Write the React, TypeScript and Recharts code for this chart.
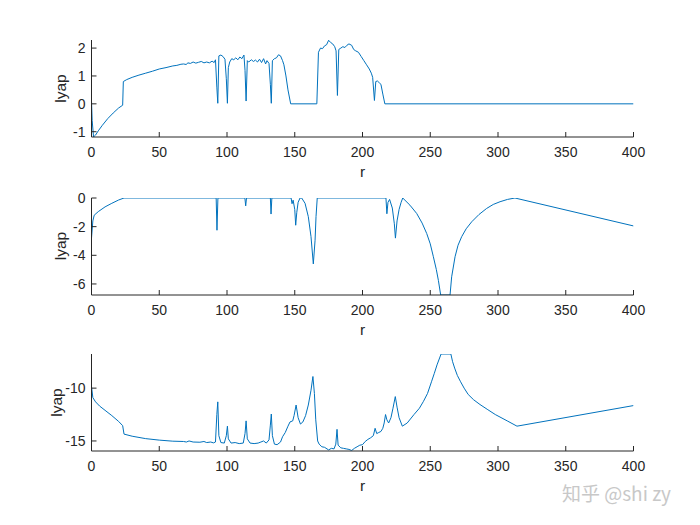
import React from 'react';
import { LineChart, Line, XAxis, YAxis } from 'recharts';

// ---- data ----
const xTicks = [0, 50, 100, 150, 200, 250, 300, 350, 400];

const r1 = [0, 0.5, 1.5, 3, 5, 8, 12, 16, 20, 23, 23.5, 26, 30, 35, 40, 45, 50, 55, 60, 63, 66, 68, 70, 71, 73, 75, 77, 79, 81, 83, 85, 87, 89, 90.5, 91.5, 92.5, 93.2, 94, 95.5, 97, 98.5, 99.5, 100.3, 101, 102, 103.5, 105, 106.5, 108, 109.5, 111, 112.5, 113.3, 114.1, 115, 116, 118, 119.5, 121, 122.5, 124, 125.5, 127, 128.5, 129.5, 131, 132, 132.7, 133.5, 135, 136.5, 138, 139.5, 141, 142, 143.5, 145, 147, 166.3, 167.5, 169, 170.5, 172, 173.5, 175, 176.5, 178, 179.5, 180.5, 181.5, 182.5, 184, 185.5, 187, 188.5, 190, 192, 193.5, 195, 197, 199, 201, 203, 205, 206.5, 207.5, 208.8, 209.8, 211, 212.5, 213.6, 215, 216.5, 400];
const v1 = [0.1, -0.6, -1.19, -1.12, -0.97, -0.77, -0.53, -0.33, -0.15, -0.05, 0.8, 0.87, 0.95, 1.03, 1.1, 1.17, 1.25, 1.3, 1.36, 1.38, 1.42, 1.43, 1.41, 1.47, 1.45, 1.5, 1.46, 1.49, 1.52, 1.47, 1.5, 1.47, 1.53, 1.48, 1.58, 0.6, 0.02, 1.72, 1.75, 1.7, 1.6, 0.9, 0.02, 1.3, 1.5, 1.62, 1.58, 1.65, 1.58, 1.68, 1.62, 1.75, 1.2, 0.1, 1.55, 1.5, 1.58, 1.52, 1.57, 1.5, 1.6, 1.48, 1.62, 1.43, 1.55, 1.45, 0.7, 0.02, 1.55, 1.62, 1.65, 1.76, 1.72, 1.55, 1.4, 1.0, 0.5, 0, 0, 1.85, 2.0, 1.98, 2.08, 2.12, 2.28, 2.2, 2.15, 2.05, 1.9, 0.3, 1.95, 2.0, 2.05, 2.02, 2.1, 2.15, 2.1, 1.95, 1.9, 1.85, 1.7, 1.55, 1.4, 1.25, 1.1, 0.95, 0.12, 0.8, 0.82, 0.75, 0.7, 0.35, 0, 0];

const r2 = [0, 1, 2, 5, 10, 15, 20, 24, 92, 92.6, 93.3, 113.2, 113.8, 114.4, 132, 132.5, 133.1, 147.3, 148, 148.8, 150, 150.7, 151.5, 152.5, 153.9, 155.1, 157.6, 160, 162, 163.7, 165, 165.7, 166.6, 217.3, 218, 218.8, 220, 222, 223.5, 224.3, 225.5, 227, 228.5, 229.7, 235, 240, 244, 247.4, 250, 252.3, 254.5, 256, 257.7, 264.6, 265.8, 268.3, 270.5, 273.2, 276.5, 280.6, 286, 291.6, 296.5, 301.5, 307, 312.5, 400];
const v2 = [-2.8, -1.6, -1.2, -0.95, -0.62, -0.37, -0.14, 0, 0, -2.25, 0, 0, -0.55, 0, 0, -1.12, 0, 0, -0.4, -0.15, -0.8, -1.9, -1.0, -0.3, 0, 0, -0.37, -1.3, -2.7, -4.6, -2.95, -1.3, 0, 0, -1.1, -0.3, -0.1, -0.7, -1.8, -2.8, -1.6, -0.8, -0.3, 0, -0.5, -1.08, -1.75, -2.48, -3.2, -4.1, -5.0, -5.75, -6.77, -6.77, -5.5, -4.1, -3.3, -2.7, -2.15, -1.66, -1.15, -0.73, -0.45, -0.26, -0.1, 0, -1.95];

const r3 = [0, 1, 3, 6, 10, 15, 20, 23, 24, 30, 40, 50, 60, 68, 70, 72, 75, 80, 83, 85, 88, 90, 91.5, 92.5, 93.2, 94, 95.5, 98, 99.5, 100.3, 101, 103, 106, 109, 112, 113.3, 114.1, 115, 117, 120, 123, 125, 127, 129, 131, 132, 132.7, 133.5, 135, 137, 139.5, 141, 143, 145, 146.5, 148.5, 149.5, 151, 152.5, 154.2, 156, 158, 160, 162, 163.4, 164.5, 165.5, 166.9, 168, 170, 172, 175, 177, 179, 180.3, 181.2, 182, 184, 186, 188, 190, 192, 194, 196, 198, 200, 202, 204, 206, 208, 209.3, 210.5, 212, 213.6, 215, 216, 217, 218, 219.3, 221, 222.5, 224.2, 225.5, 227, 229.4, 233, 238, 242, 245, 248, 250.9, 253, 255, 258, 265.2, 266.5, 268, 270, 272.4, 275, 278, 282, 286.7, 292, 298, 306.8, 314, 400];
const v3 = [-9.85, -10.9, -11.3, -11.7, -12.1, -12.6, -13.15, -13.55, -14.35, -14.55, -14.78, -14.92, -15.02, -15.05, -15.1, -15.0, -15.1, -15.12, -15.05, -15.15, -15.1, -15.18, -15.1, -12.5, -11.3, -14.5, -15.15, -15.2, -14.5, -13.6, -14.8, -15.2, -15.15, -15.25, -15.2, -14.3, -13.1, -14.8, -15.2, -15.25, -15.2, -15.1, -15.0, -15.2, -14.9, -13.5, -12.45, -14.5, -15.3, -15.35, -15.1, -14.6, -14.2, -13.6, -13.2, -13.1, -12.6, -11.6, -12.8, -13.4, -13.2, -12.6, -11.6, -10.2, -8.9, -10.5, -13.0, -15.0, -15.3, -15.55, -15.6, -15.85, -15.7, -15.75, -15.3, -13.9, -15.4, -15.65, -15.7, -15.75, -15.8, -15.9, -15.7, -15.55, -15.4, -15.35, -15.05, -14.85, -14.7, -14.5, -13.8, -14.3, -14.2, -14.1, -13.8, -13.3, -12.5, -13.0, -13.3, -12.8, -11.9, -10.8, -11.8, -12.8, -13.6, -13.3, -12.5, -11.9, -11.25, -10.5, -9.4, -8.6, -7.8, -6.77, -6.77, -7.5, -8.1, -8.8, -9.4, -10.0, -10.6, -11.1, -11.55, -12.0, -12.5, -13.1, -13.6, -11.65];

const yTicks1 = [-1, 0, 1, 2];
const yTicks2 = [-6, -4, -2, 0];
const yTicks3 = [-15, -10];
const yDomain1: [number, number] = [-1.19, 2.29];
const yDomain2: [number, number] = [-6.77, 0];
const yDomain3: [number, number] = [-15.95, -6.77];
const yLabelX = [66, 66, 62];

const build = (rs: number[], vs: number[]) => rs.map((r, i) => ({ r, v: vs[i] }));
const data1 = build(r1, v1);
const data2 = build(r2, v2);
const data3 = build(r3, v3);

// ---- styling ----
const LINE = '#0072BD';
const AX = '#262626';
const FONT = '"Liberation Sans", Arial, Helvetica, sans-serif';
const PLOT_LEFT = 91.5;
const PLOT_RIGHT = 633.5;
const PLOT_H = 97;
const TOP_PAD = 10;
const XAXIS_H = 45;
const CHART_H = TOP_PAD + PLOT_H + XAXIS_H + 5;
const plotTops = [40, 197.5, 354];

type PanelProps = {
  top: number;
  data: { r: number; v: number }[];
  yDomain: [number, number];
  yTicks: number[];
};

function Panel({ top, data, yDomain, yTicks }: PanelProps) {
  const tickStyle = { fontSize: 14, fill: AX, fontFamily: FONT };
  return (
    <div style={{ position: 'absolute', left: 0, top: top - TOP_PAD, width: 700, height: CHART_H }}>
      <LineChart
        width={700}
        height={CHART_H}
        data={data}
        margin={{ top: TOP_PAD, right: 700 - PLOT_RIGHT, bottom: 5, left: PLOT_LEFT - 40 }}
      >
        <XAxis
          xAxisId={0}
          dataKey="r"
          type="number"
          domain={[0, 400]}
          ticks={xTicks}
          allowDataOverflow
          height={XAXIS_H}
          tickSize={-5}
          tickMargin={15}
          stroke={AX}
          tick={tickStyle}
          axisLine={{ stroke: AX }}
          tickLine={{ stroke: AX }}
        />
        <XAxis
          xAxisId="top"
          orientation="top"
          dataKey="r"
          type="number"
          domain={[0, 400]}
          ticks={xTicks}
          allowDataOverflow
          height={0}
          tickSize={-5}
          tick={false}
          stroke={AX}
          axisLine={{ stroke: AX }}
          tickLine={{ stroke: AX }}
        />
        <YAxis
          yAxisId={0}
          type="number"
          domain={yDomain}
          ticks={yTicks}
          allowDataOverflow
          width={40}
          tickSize={-5}
          tickMargin={11}
          stroke={AX}
          tick={tickStyle}
          axisLine={{ stroke: AX }}
          tickLine={{ stroke: AX }}
        />
        <YAxis
          yAxisId="right"
          orientation="right"
          type="number"
          domain={yDomain}
          ticks={yTicks}
          allowDataOverflow
          width={0}
          tickSize={-5}
          tick={false}
          stroke={AX}
          axisLine={{ stroke: AX }}
          tickLine={{ stroke: AX }}
        />
        <Line
          xAxisId={0}
          yAxisId={0}
          dataKey="v"
          type="linear"
          stroke={LINE}
          strokeWidth={1}
          dot={false}
          activeDot={false}
          isAnimationActive={false}
        />
      </LineChart>
    </div>
  );
}

export default function App() {
  const cx = (PLOT_LEFT + PLOT_RIGHT) / 2;
  return (
    <div
      style={{
        position: 'absolute',
        left: 0,
        top: 0,
        width: 700,
        height: 525,
        background: '#ffffff',
        fontFamily: FONT,
        overflow: 'hidden',
      }}
    >
      <Panel top={plotTops[0]} data={data1} yDomain={yDomain1} yTicks={yTicks1} />
      <Panel top={plotTops[1]} data={data2} yDomain={yDomain2} yTicks={yTicks2} />
      <Panel top={plotTops[2]} data={data3} yDomain={yDomain3} yTicks={yTicks3} />
      <svg
        width={700}
        height={525}
        style={{ position: 'absolute', left: 0, top: 0, pointerEvents: 'none' }}
      >
        {plotTops.map((t, i) => (
          <g key={i}>
            <text
              x={cx}
              y={t + PLOT_H + 40}
              textAnchor="middle"
              fontSize={15.5}
              fill={AX}
              fontFamily={FONT}
            >
              r
            </text>
            <text
              transform={`translate(${yLabelX[i]}, ${t + PLOT_H / 2}) rotate(-90)`}
              textAnchor="middle"
              fontSize={15.5}
              fill={AX}
              fontFamily={FONT}
            >
              lyap
            </text>
          </g>
        ))}
        <text x={562} y={501} fontSize={19} fill="#c8c8c8" fontFamily='"Noto Sans CJK SC", "Noto Sans", sans-serif'>
          知乎 @shi zy
        </text>
      </svg>
    </div>
  );
}
